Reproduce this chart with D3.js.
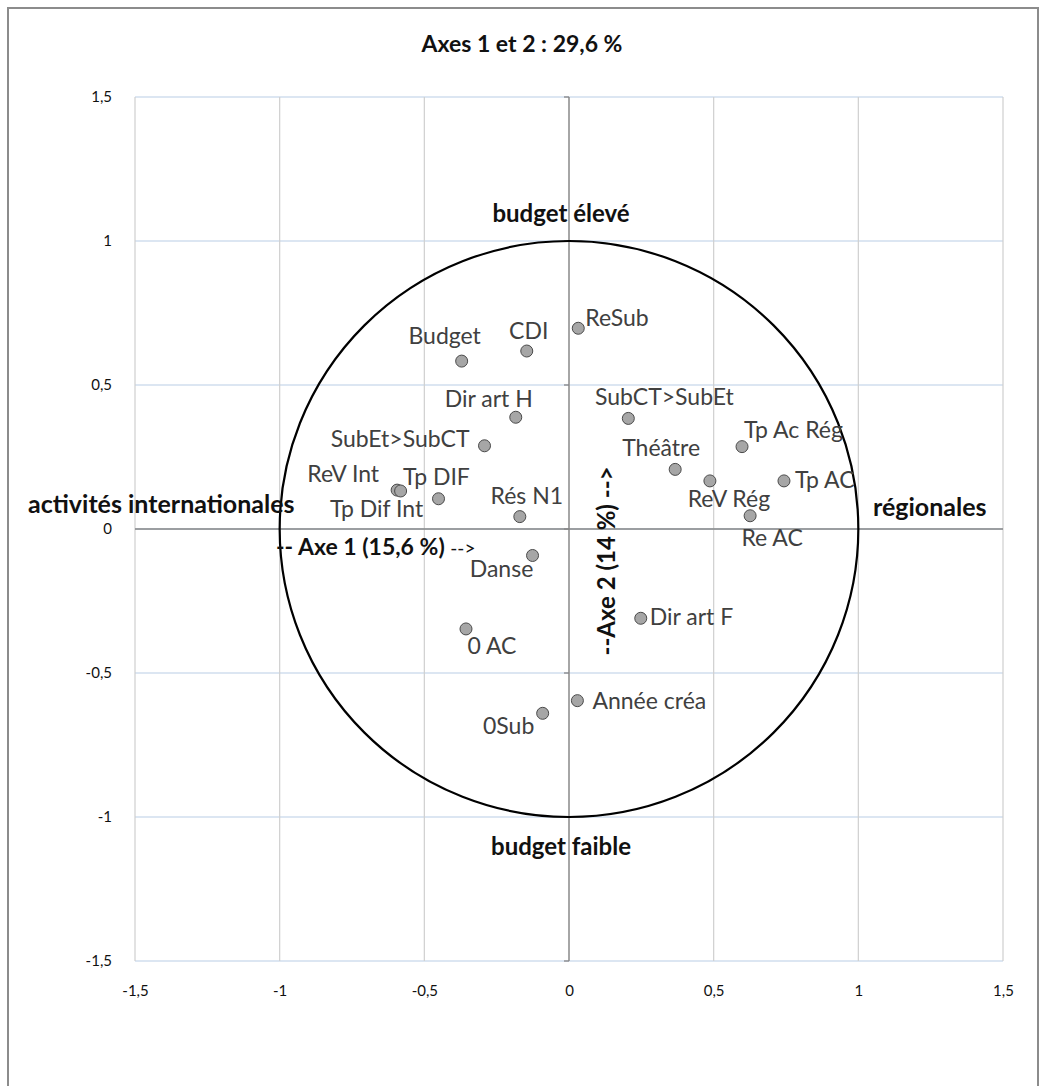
<!DOCTYPE html>
<html>
<head>
<meta charset="utf-8">
<script src="https://cdn.jsdelivr.net/npm/d3@7"></script>
<style>
  body { margin: 0; background: #fff; }
  svg text { font-family: Lato, "Noto Sans", sans-serif; }
</style>
</head>
<body>
<svg id="chart" width="1047" height="1086"></svg>
<script>
// Variables projected on the first factorial plane (correlation circle)
const variables = ["ReSub", "CDI", "Budget", "Dir art H", "SubEt>SubCT", "ReV Int", "Tp Dif Int",
  "Tp DIF", "Rés N1", "Danse", "0 AC", "0Sub", "Année créa", "Dir art F", "SubCT>SubEt",
  "Théâtre", "Tp Ac Rég", "ReV Rég", "Tp AC", "Re AC"];
const axis1 = [0.032, -0.146, -0.371, -0.184, -0.292, -0.594, -0.582, -0.451, -0.170, -0.126,
  -0.356, -0.091, 0.029, 0.248, 0.205, 0.367, 0.598, 0.487, 0.743, 0.626];
const axis2 = [0.697, 0.618, 0.583, 0.388, 0.289, 0.135, 0.132, 0.105, 0.043, -0.092,
  -0.347, -0.640, -0.596, -0.310, 0.384, 0.207, 0.286, 0.167, 0.167, 0.046];
const tickValues = [-1.5, -1, -0.5, 0, 0.5, 1, 1.5];
const tickLabels = ["-1,5", "-1", "-0,5", "0", "0,5", "1", "1,5"];
const titleText = "Axes 1 et 2 : 29,6 %";

// Where each variable name sits relative to its marker: [anchor, dx, dy]
const labelPlacement = {
  "ReSub": ["start", 7, -2],
  "CDI": ["middle", 2, -12],
  "Budget": ["middle", -17, -17],
  "Dir art H": ["middle", -27, -10],
  "SubEt>SubCT": ["end", -15, 1],
  "ReV Int": ["end", -18, -8],
  "Tp Dif Int": ["middle", -24, 26],
  "Tp DIF": ["middle", -2, -14],
  "Rés N1": ["middle", 7, -13],
  "Danse": ["middle", -31, 22],
  "0 AC": ["middle", 26, 25],
  "0Sub": ["middle", -34, 21],
  "Année créa": ["start", 15, 8],
  "Dir art F": ["start", 9, 7],
  "SubCT>SubEt": ["middle", 36, -13],
  "Théâtre": ["middle", -14, -13],
  "Tp Ac Rég": ["start", 2, -9],
  "ReV Rég": ["middle", 19, 26],
  "Tp AC": ["start", 11, 7],
  "Re AC": ["middle", 22, 30]
};

const svg = d3.select("#chart");
const x = d3.scaleLinear().domain([-1.5, 1.5]).range([135, 1003]);
const y = d3.scaleLinear().domain([-1.5, 1.5]).range([961, 97]);
const fmt = v => tickLabels[tickValues.indexOf(v)];

// Outer chart frame
svg.append("rect")
  .attr("x", 8).attr("y", 8).attr("width", 1030).attr("height", 1100)
  .attr("fill", "none").attr("stroke", "#8c8c8c").attr("stroke-width", 2);

svg.append("text")
  .attr("x", 522).attr("y", 52)
  .attr("text-anchor", "middle")
  .attr("font-size", 23).attr("font-weight", 700).attr("fill", "#111")
  .text(titleText);

// Gridlines: horizontal in light blue, vertical in light gray
svg.append("g")
  .selectAll("line")
  .data(tickValues)
  .join("line")
  .attr("x1", x(-1.5)).attr("x2", x(1.5))
  .attr("y1", d => y(d)).attr("y2", d => y(d))
  .attr("stroke", "#b9cde5").attr("stroke-width", 1.2);

svg.append("g")
  .selectAll("line")
  .data(tickValues)
  .join("line")
  .attr("y1", y(1.5)).attr("y2", y(-1.5))
  .attr("x1", d => x(d)).attr("x2", d => x(d))
  .attr("stroke", "#cfcfcf").attr("stroke-width", 1.2);

// Axes through the origin
svg.append("line")
  .attr("x1", x(-1.5)).attr("x2", x(1.5)).attr("y1", y(0)).attr("y2", y(0))
  .attr("stroke", "#868686").attr("stroke-width", 1.3);
svg.append("line")
  .attr("x1", x(0)).attr("x2", x(0)).attr("y1", y(1.5)).attr("y2", y(-1.5))
  .attr("stroke", "#868686").attr("stroke-width", 1.3);
svg.append("g")
  .selectAll("line")
  .data(tickValues)
  .join("line")
  .attr("x1", x(0) - 5).attr("x2", x(0))
  .attr("y1", d => y(d)).attr("y2", d => y(d))
  .attr("stroke", "#868686").attr("stroke-width", 1.3);

// Tick labels
const yAxis = svg.append("g")
  .attr("transform", `translate(${x(-1.5) - 23},0)`)
  .call(d3.axisLeft(y).tickValues(tickValues).tickFormat(fmt).tickSize(0).tickPadding(0));
const xAxis = svg.append("g")
  .attr("transform", `translate(0,${y(-1.5) + 24})`)
  .call(d3.axisBottom(x).tickValues(tickValues).tickFormat(fmt).tickSize(0).tickPadding(0));
[yAxis, xAxis].forEach(g => {
  g.select(".domain").remove();
  g.selectAll("text")
    .attr("font-family", "Lato, sans-serif")
    .attr("font-size", 15).attr("fill", "#111");
});

// Correlation circle of radius 1
svg.append("ellipse")
  .attr("cx", x(0)).attr("cy", y(0))
  .attr("rx", x(1) - x(0)).attr("ry", y(0) - y(1))
  .attr("fill", "none").attr("stroke", "#000").attr("stroke-width", 2.2);

// Interpretation of the axes
const note = (tx, ty, anchor, str, size) => svg.append("text")
  .attr("x", tx).attr("y", ty).attr("text-anchor", anchor)
  .attr("font-size", size).attr("font-weight", 700).attr("fill", "#111").text(str);
note(x(0) - 8, y(1) - 19, "middle", "budget élevé", 24);
note(x(0) - 8, y(-1) + 38, "middle", "budget faible", 24);
note(28, y(0) - 16, "start", "activités internationales", 25);
note(873, y(0) - 13, "start", "régionales", 25);

const ax1 = svg.append("text")
  .attr("x", 276).attr("y", y(0) + 26)
  .attr("font-size", 23).attr("fill", "#111");
ax1.append("tspan").attr("font-weight", 700).text("-- Axe 1 (15,6 %) ");
ax1.append("tspan").attr("font-size", 19).text("-->");

svg.append("text")
  .attr("transform", `translate(${x(0) + 46},${y(0) + 32}) rotate(-90)`)
  .attr("text-anchor", "middle")
  .attr("font-size", 24).attr("font-weight", 700).attr("fill", "#111")
  .text("--Axe 2 (14 %) -->");

// Variable markers and names
const pts = variables.map((name, i) => ({ name, a1: axis1[i], a2: axis2[i] }));
svg.append("g")
  .selectAll("circle")
  .data(pts)
  .join("circle")
  .attr("cx", d => x(d.a1)).attr("cy", d => y(d.a2)).attr("r", 6)
  .attr("fill", "#a6a6a6").attr("stroke", "#4a4a4a").attr("stroke-width", 1);

svg.append("g")
  .selectAll("text")
  .data(pts)
  .join("text")
  .attr("x", d => x(d.a1) + labelPlacement[d.name][1])
  .attr("y", d => y(d.a2) + labelPlacement[d.name][2])
  .attr("text-anchor", d => labelPlacement[d.name][0])
  .attr("font-size", 23).attr("fill", "#404040")
  .text(d => d.name);
</script>
</body>
</html>
